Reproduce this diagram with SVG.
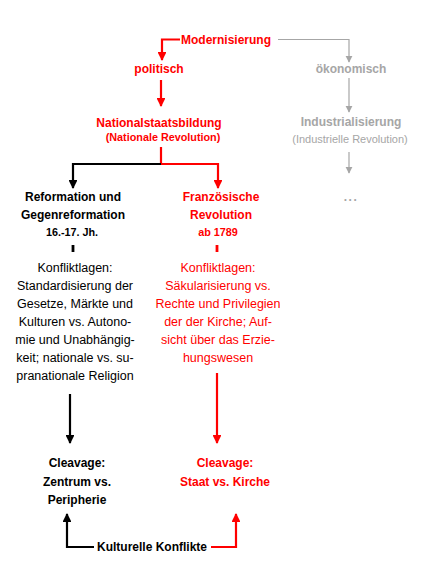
<svg xmlns="http://www.w3.org/2000/svg" width="421" height="561" viewBox="0 0 421 561">
<defs>
<style>
text{font-family:"Liberation Sans",Arial,sans-serif;text-anchor:middle}
.b{font-weight:bold;font-size:12px}
.s{font-weight:bold;font-size:10.8px}
.r{font-size:12.5px}
.red{fill:#f00}
.blk{fill:#000}
.gr{fill:#a6a6a6}
.lr{stroke:#f00;stroke-width:2.2;fill:none}
.lk{stroke:#000;stroke-width:2.2;fill:none}
.lg{stroke:#a6a6a6;stroke-width:1.2;fill:none}
</style>
<marker id="ar" viewBox="0 0 10 10" refX="9" refY="5" markerWidth="4" markerHeight="4" markerUnits="strokeWidth" orient="auto"><path d="M0,0L10,5L0,10z" fill="#f00"/></marker>
<marker id="ak" viewBox="0 0 10 10" refX="9" refY="5" markerWidth="4" markerHeight="4" markerUnits="strokeWidth" orient="auto"><path d="M0,0L10,5L0,10z" fill="#000"/></marker>
<marker id="ag" viewBox="0 0 10 10" refX="9" refY="5" markerWidth="6" markerHeight="6" markerUnits="strokeWidth" orient="auto"><path d="M0,0L10,5L0,10z" fill="#a6a6a6"/></marker>
</defs>
<rect width="421" height="561" fill="#fff"/>
<g id="connectors">
<path class="lr" d="M180,39.5H162V60" marker-end="url(#ar)"/>
<path class="lg" d="M278,39.5H349V62" marker-end="url(#ag)"/>
<path class="lr" d="M161,80V106" marker-end="url(#ar)"/>
<path class="lg" d="M349,78V112" marker-end="url(#ag)"/>
<path class="lg" d="M349,152V173" marker-end="url(#ag)"/>
<path class="lr" d="M161,147V164H218V188" marker-end="url(#ar)"/>
<path class="lk" d="M161,164H73V188" marker-end="url(#ak)"/>
<path class="lk" d="M73,245V252" style="stroke-width:2.8"/>
<path class="lr" d="M217,245V252" style="stroke-width:2.8"/>
<path class="lk" d="M70,394V443" marker-end="url(#ak)"/>
<path class="lr" d="M217,373V443" marker-end="url(#ar)"/>
<path class="lk" d="M94,547H67V514" marker-end="url(#ak)"/>
<path class="lr" d="M211,547H236V514" marker-end="url(#ar)"/>
</g>
<g id="modernisierung"><text class="b red" x="226" y="44">Modernisierung</text></g>
<g id="politisch"><text class="b red" x="159" y="73">politisch</text></g>
<g id="oekonomisch"><text class="b gr" x="351" y="73">ökonomisch</text></g>
<g id="nationalstaatsbildung"><text class="b red" x="159" y="127">Nationalstaatsbildung</text><text class="s red" x="163" y="141">(Nationale Revolution)</text></g>
<g id="industrialisierung"><text class="b gr" x="351" y="126">Industrialisierung</text><text class="r gr" x="350" y="143" style="font-size:11px">(Industrielle Revolution)</text></g>
<g id="dots"><text class="b gr" x="351" y="201" style="letter-spacing:1.5px">...</text></g>
<g id="reformation"><text class="b blk" x="73" y="201">Reformation und</text><text class="b blk" x="73" y="219">Gegenreformation</text><text class="s blk" x="72" y="236">16.-17. Jh.</text></g>
<g id="franz"><text class="b red" x="221" y="201">Französische</text><text class="b red" x="221" y="219">Revolution</text><text class="s red" x="218" y="236">ab 1789</text></g>
<g id="konflikt-links" class="r blk">
<text x="75" y="272">Konfliktlagen:</text>
<text x="75" y="290">Standardisierung der</text>
<text x="75" y="308">Gesetze, Märkte und</text>
<text x="75" y="326">Kulturen vs. Autono-</text>
<text x="75" y="344">mie und Unabhängig-</text>
<text x="75" y="362">keit; nationale vs. su-</text>
<text x="75" y="380">pranationale Religion</text>
</g>
<g id="konflikt-rechts" class="r red">
<text x="218" y="272">Konfliktlagen:</text>
<text x="218" y="290">Säkularisierung vs.</text>
<text x="218" y="308">Rechte und Privilegien</text>
<text x="218" y="326">der der Kirche; Auf-</text>
<text x="218" y="344">sicht über das Erzie-</text>
<text x="218" y="362">hungswesen</text>
</g>
<g id="cleavage-links"><text class="b blk" x="77" y="467">Cleavage:</text><text class="b blk" x="77" y="486">Zentrum vs.</text><text class="b blk" x="77" y="504">Peripherie</text></g>
<g id="cleavage-rechts"><text class="b red" x="225" y="467">Cleavage:</text><text class="b red" x="225" y="486">Staat vs. Kirche</text></g>
<g id="kulturelle"><text class="b blk" x="152" y="551">Kulturelle Konflikte</text></g>
</svg>
